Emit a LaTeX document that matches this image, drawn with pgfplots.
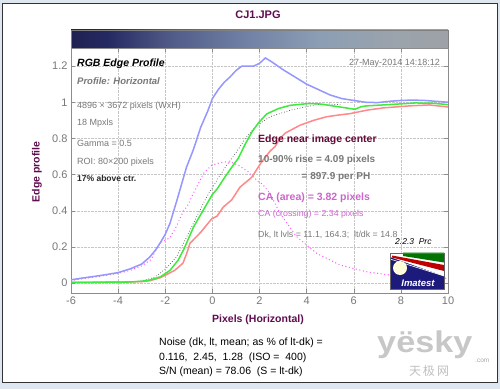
\documentclass[border=0pt]{standalone}
\usepackage{pgfplots}
\pgfplotsset{compat=1.18}
\usepackage{fontspec}
\setmainfont{Liberation Sans}
\newfontfamily\cjk{Noto Sans CJK SC}
\newcommand\fs[1]{\fontsize{#1}{#1}\selectfont}
\definecolor{ttl}{RGB}{96,12,80}
\definecolor{maroon}{RGB}{104,8,56}
\definecolor{orch}{RGB}{204,102,204}
\definecolor{txtgray}{RGB}{120,120,120}
\definecolor{bcol}{RGB}{150,150,255}
\definecolor{gcol}{RGB}{60,235,60}
\definecolor{rcol}{RGB}{255,136,136}
\definecolor{pcol}{RGB}{255,90,255}
\definecolor{bgblue}{RGB}{222,230,240}
\definecolor{navy}{RGB}{28,26,122}
\pgfdeclarehorizontalshading{cbarb}{100bp}{
 color(0bp)=({rgb,255:red,20;green,20;blue,28});
 color(10bp)=({rgb,255:red,20;green,18;blue,40});
 color(20bp)=({rgb,255:red,24;green,24;blue,64});
 color(30bp)=({rgb,255:red,38;green,42;blue,98});
 color(38bp)=({rgb,255:red,80;green,90;blue,135});
 color(48bp)=({rgb,255:red,112;green,128;blue,165});
 color(58bp)=({rgb,255:red,140;green,158;blue,180});
 color(68bp)=({rgb,255:red,155;green,163;blue,172});
 color(80bp)=({rgb,255:red,160;green,160;blue,162});
 color(100bp)=({rgb,255:red,160;green,160;blue,160})}
\begin{document}
\begin{tikzpicture}[x=1pt,y=1pt]
\fill[bgblue] (0,0) rectangle (500,389);
\draw[fill=white,draw=black!80,line width=0.8pt] (2.5,6.5) rectangle (497,385.5);
\shade[shading=cbarb] (71,341) rectangle (448,359);
\draw[gray] (71,341) rectangle (448,359);
\begin{axis}[at={(71pt,96pt)},anchor=south west,
  width=377pt,height=245pt,scale only axis,
  xmin=-6,xmax=10,ymin=-0.055,ymax=1.3,
  xtick={-6,-4,...,10},ytick={0,0.2,0.4,0.6,0.8,1,1.2},
  /pgf/number format/assume math mode=true,
  tick align=inside,major tick length=4pt,
  axis line style={draw=gray!90},
  tick style={draw=gray!90,thin},
  ticklabel style={font=\fs{11},text=txtgray},
  grid=major,grid style={densely dotted,gray!45},
  clip=true]
\addplot[pcol,line width=1.4pt,line cap=round,dash pattern=on 0pt off 3.6pt] coordinates {
(-6,0.014) (-5,0.033) (-4,0.053) (-3.5,0.07) (-3,0.095) (-2.6,0.13) (-2.36,0.19)
(-2.2,0.225) (-1.8,0.25) (-1.5,0.32) (-1.23,0.40) (-1.09,0.42) (-0.81,0.495)
(-0.52,0.57) (-0.38,0.606) (-0.03,0.652) (0.18,0.66) (0.54,0.67) (0.8,0.668)
(1.1,0.652) (1.53,0.615) (1.95,0.56) (2.1,0.55) (2.45,0.496) (2.87,0.385)
(3.58,0.256) (4.43,0.164) (5.42,0.1) (6.55,0.062) (7.54,0.044) (8.5,0.035)
(9.3,0.03) (10,0.026)};
\addplot[black!70,line width=0.7pt,dotted] coordinates {
(-3.5,0.006) (-3,0.012) (-2.5,0.03) (-2.22,0.054) (-1.9,0.09) (-1.52,0.145)
(-1.09,0.256) (-0.67,0.366) (-0.24,0.477) (0.2,0.57) (0.6,0.65) (1.0,0.72)
(1.4,0.80) (1.8,0.86) (2.1,0.89) (2.45,0.92) (3.3,0.956) (4.43,0.987)
(5.0,0.99) (5.5,0.985)};
\addplot[rcol,line width=1.5pt] coordinates {
(-6,0.004) (-4,0.005) (-3,0.008) (-2.65,0.013) (-2.2,0.03) (-1.6,0.07)
(-1.25,0.11) (-1.1,0.16) (-0.95,0.22) (-0.5,0.28) (-0.03,0.355) (0.2,0.37)
(0.46,0.42) (0.82,0.46) (1.17,0.53) (1.67,0.585) (2.09,0.67) (2.45,0.73)
(2.66,0.755) (2.87,0.80) (3.1,0.83) (3.72,0.873) (4.3,0.90) (4.85,0.92)
(5.4,0.93) (5.84,0.937) (6.55,0.956) (7.26,0.969) (8.39,0.98) (9.2,0.985)
(10,0.974)};
\addplot[gcol,line width=1.5pt] coordinates {
(-6,0.004) (-5,0.004) (-4,0.005) (-3.5,0.006) (-3,0.01) (-2.65,0.017)
(-2.2,0.035) (-1.8,0.07) (-1.45,0.127) (-1.2,0.19) (-1.0,0.25) (-0.8,0.31)
(-0.4,0.40) (0.0,0.49) (0.2,0.52) (0.5,0.58) (0.9,0.655) (1.1,0.69)
(1.4,0.77) (1.7,0.84) (1.95,0.885) (2.3,0.935) (2.8,0.965) (3.3,0.983)
(4.1,0.993) (4.6,0.99) (5.1,0.98) (5.6,0.97) (6.05,0.961) (6.3,0.975)
(6.55,0.98) (7.5,0.987) (8.6,0.996) (9.3,0.995) (10,0.987)};
\addplot[bcol,line width=1.5pt] coordinates {
(-6,0.018) (-5.5,0.028) (-5,0.037) (-4.5,0.047) (-4,0.058) (-3.5,0.078)
(-3,0.105) (-2.65,0.145) (-2.4,0.185) (-2.2,0.225) (-2.0,0.27) (-1.8,0.33)
(-1.5,0.46) (-1.3,0.55) (-1.1,0.64) (-0.8,0.74) (-0.5,0.86) (-0.2,0.95)
(0.0,1.02) (0.25,1.07) (0.5,1.11) (0.75,1.14) (1.0,1.175) (1.25,1.20)
(1.75,1.20) (2.0,1.215) (2.25,1.245) (2.5,1.225) (3.0,1.18) (3.5,1.14)
(4.0,1.10) (4.5,1.07) (5.0,1.04) (5.5,1.02) (6.0,1.01) (6.5,1.0)
(7.0,0.998) (7.5,1.005) (8.0,1.01) (8.5,1.012) (9.0,1.01) (9.5,1.005)
(10,1.0)};
\end{axis}
% title and labels
\node[font=\fs{11}\bfseries,text=ttl] at (258,374) {CJ1.JPG};
\node[font=\fs{10.5}\bfseries,text=ttl,rotate=90] at (37,217) {Edge profile};
\node[font=\fs{10.5}\bfseries,text=ttl] at (258,69) {Pixels (Horizontal)};
% left info block
\node[anchor=west,font=\fs{10.5}\bfseries\itshape,inner sep=0] at (77,325) {RGB Edge Profile};
\node[anchor=west,font=\fs{9.5}\bfseries\itshape,text=txtgray,inner sep=0] at (77,308) {Profile: Horizontal};
\node[anchor=west,font=\fs{9},text=txtgray,inner sep=0] at (77,283) {4896 × 3672 pixels (WxH)};
\node[anchor=west,font=\fs{9},text=txtgray,inner sep=0] at (77,266) {18 Mpxls};
\node[anchor=west,font=\fs{9},text=txtgray,inner sep=0] at (77,245.5) {Gamma = 0.5};
\node[anchor=west,font=\fs{9},text=txtgray,inner sep=0] at (77,226.5) {ROI: 80×200 pixels};
\node[anchor=west,font=\fs{8.5}\bfseries,text=black!85,inner sep=0] at (77,210.5) {17\% above ctr.};
\node[anchor=east,font=\fs{9},text=txtgray,inner sep=0] at (440,325.5) {27-May-2014 14:18:12};
% right info block
\node[anchor=west,font=\fs{10.5}\bfseries,text=maroon,inner sep=0] at (258,249.5) {Edge near image center};
\node[anchor=west,font=\fs{10}\bfseries,text=txtgray,inner sep=0] at (258,229) {10-90\% rise = 4.09 pixels};
\node[anchor=west,font=\fs{10}\bfseries,text=txtgray,inner sep=0] at (301.5,211.5) {= 897.9 per PH};
\node[anchor=west,font=\fs{10.5}\bfseries,text=orch,inner sep=0] at (258,191.5) {CA (area) = 3.82 pixels};
\node[anchor=west,font=\fs{8.8},text=orch,inner sep=0] at (258,174.5) {CA (crossing) = 2.34 pixels};
\node[anchor=west,font=\fs{8.8},text=txtgray,inner sep=0] at (258,154.5) {Dk, lt lvls = 11.1, 164.3;\ \ lt/dk = 14.8};
\node[anchor=west,font=\fs{8.5}\itshape,inner sep=0] at (395,147.5) {2.2.3\ \ Prc};
% logo
\fill[navy] (390,99.7) rectangle (444,136.3);
\fill[white] (390,136.3) -- (444,136.3) -- (444,113) -- (390,132) -- cycle;
\fill[green!45!black] (403,136.3) -- (444,136.3) -- (444,126.5) -- (403,133) -- cycle;
\fill[red!75!black] (392,133.5) -- (444,124) -- (444,118) -- (392,131.5) -- cycle;
\draw[white,line width=0.6pt] (390,130) -- (444,113);
\fill[yellow!15] (400,121) circle (7);
\node[font=\fs{9.5}\bfseries\itshape,text=white] at (418,106) {Imatest};
\draw[black!60] (390,99.7) rectangle (444,136.3);
% bottom noise text
\node[anchor=west,font=\fs{10.5},inner sep=0] at (159,46) {Noise (dk, lt, mean; as \% of lt-dk) =};
\node[anchor=west,font=\fs{10.5},inner sep=0] at (159,31) {0.116,\ \ 2.45,\ \ 1.28\ \ (ISO =\ \ 400)};
\node[anchor=west,font=\fs{10.5},inner sep=0] at (159,17) {S/N (mean) = 78.06\ \ (S = lt-dk)};
% watermark
\node[anchor=base west,font=\fs{30}\bfseries,text=black!22,inner sep=0,xscale=1.14] at (377,37) {yësky};
\node[anchor=base west,font=\fs{6.5},text=black!35,inner sep=0] at (475,27) {.com};
\node[font=\cjk\fs{12},text=black!25,inner sep=0] at (429,18) {天\,极\,网};
\end{tikzpicture}
\end{document}
